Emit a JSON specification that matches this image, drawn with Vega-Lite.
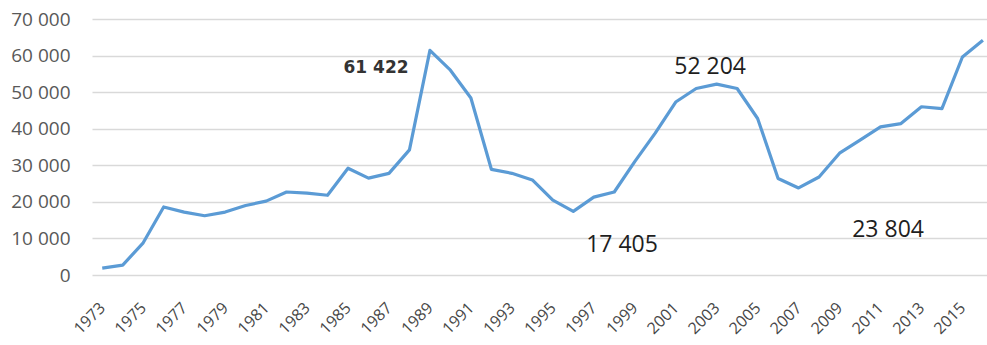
{
  "$schema": "https://vega.github.io/schema/vega-lite/v6.json",
  "width": 895,
  "height": 256,
  "autosize": {"type": "none"},
  "padding": {"left": 92, "top": 19, "right": 0, "bottom": 70},
  "background": "white",
  "config": {"view": {"stroke": null}, "font": "Open Sans"},
  "datasets": {
    "series": [
      {"year": 1973, "value": 1900}, {"year": 1974, "value": 2700}, {"year": 1975, "value": 8800},
      {"year": 1976, "value": 18600}, {"year": 1977, "value": 17200}, {"year": 1978, "value": 16200},
      {"year": 1979, "value": 17200}, {"year": 1980, "value": 19000}, {"year": 1981, "value": 20200},
      {"year": 1982, "value": 22700}, {"year": 1983, "value": 22400}, {"year": 1984, "value": 21800},
      {"year": 1985, "value": 29200}, {"year": 1986, "value": 26500}, {"year": 1987, "value": 27800},
      {"year": 1988, "value": 34200}, {"year": 1989, "value": 61422}, {"year": 1990, "value": 56000},
      {"year": 1991, "value": 48400}, {"year": 1992, "value": 28900}, {"year": 1993, "value": 27800},
      {"year": 1994, "value": 26000}, {"year": 1995, "value": 20500}, {"year": 1996, "value": 17405},
      {"year": 1997, "value": 21300}, {"year": 1998, "value": 22700}, {"year": 1999, "value": 31000},
      {"year": 2000, "value": 38800}, {"year": 2001, "value": 47300}, {"year": 2002, "value": 51000},
      {"year": 2003, "value": 52204}, {"year": 2004, "value": 51000}, {"year": 2005, "value": 42800},
      {"year": 2006, "value": 26400}, {"year": 2007, "value": 23804}, {"year": 2008, "value": 26800},
      {"year": 2009, "value": 33300}, {"year": 2010, "value": 36900}, {"year": 2011, "value": 40500},
      {"year": 2012, "value": 41400}, {"year": 2013, "value": 46000}, {"year": 2014, "value": 45500},
      {"year": 2015, "value": 59600}, {"year": 2016, "value": 64200}
    ],
    "peak": [
      {"year": 1986.37, "value": 56600, "label": "61 422"}
    ],
    "notes": [
      {"year": 2002.68, "value": 56900, "label": "52 204"},
      {"year": 1998.38, "value": 8300, "label": "17 405"},
      {"year": 2011.37, "value": 12300, "label": "23 804"}
    ]
  },
  "encoding": {
    "x": {
      "field": "year", "type": "quantitative",
      "scale": {"domain": [1972.5, 2016.2], "nice": false, "zero": false},
      "axis": {
        "title": null, "grid": false, "domain": false, "ticks": false,
        "values": [1973, 1975, 1977, 1979, 1981, 1983, 1985, 1987, 1989, 1991, 1993, 1995, 1997, 1999, 2001, 2003, 2005, 2007, 2009, 2011, 2013, 2015],
        "format": "d", "labelAngle": -45, "labelAlign": "right", "labelBaseline": "middle",
        "labelPadding": 30, "labelDx": 1, "labelFontSize": 16, "labelColor": "#474747", "labelFont": "Open Sans",
        "labelOverlap": false
      }
    },
    "y": {
      "field": "value", "type": "quantitative",
      "scale": {"domain": [0, 70000], "nice": false},
      "axis": {
        "title": null, "domain": false, "ticks": false,
        "values": [0, 10000, 20000, 30000, 40000, 50000, 60000, 70000],
        "labelExpr": "replace(format(datum.value, ','), ',', ' ')",
        "labelPadding": 22, "labelFontSize": 19, "labelColor": "#595959", "labelFont": "Open Sans",
        "labelOverlap": false,
        "gridColor": "#d9d9d9", "gridWidth": 1.5
      }
    }
  },
  "layer": [
    {
      "data": {"name": "series"},
      "mark": {"type": "line", "color": "#5B9BD5", "strokeWidth": 3.2, "strokeJoin": "round"}
    },
    {
      "data": {"name": "peak"},
      "mark": {"type": "text", "color": "#333333", "font": "DejaVu Sans", "fontWeight": "bold", "fontSize": 17},
      "encoding": {"text": {"field": "label"}}
    },
    {
      "data": {"name": "notes"},
      "mark": {"type": "text", "color": "#1e1e1e", "font": "Open Sans", "fontSize": 23},
      "encoding": {"text": {"field": "label"}}
    }
  ]
}
